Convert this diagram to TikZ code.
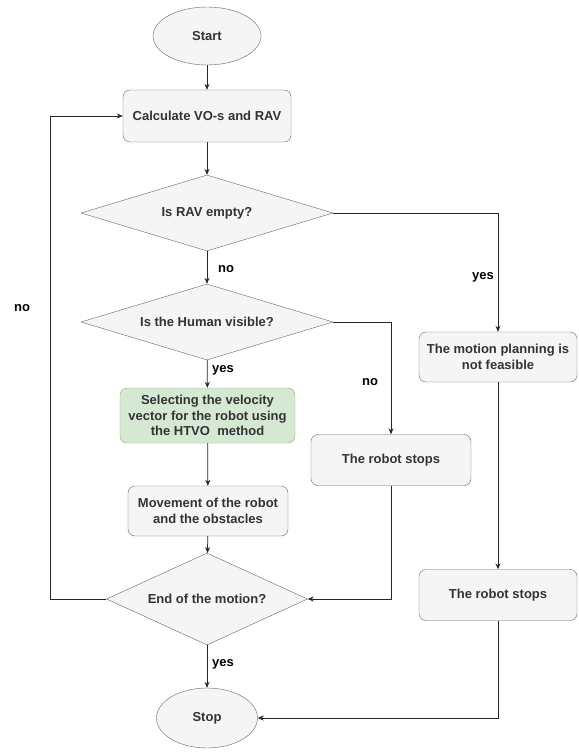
\documentclass[tikz,border=0pt]{standalone}
\usepackage{xcolor}
\usepackage{tikz}
\usetikzlibrary{shapes.geometric,arrows.meta}
\usepackage{fontspec}
\setmainfont{Liberation Sans}
\definecolor{boxgray}{HTML}{F5F5F5}
\definecolor{linegray}{HTML}{666666}
\definecolor{textgray}{HTML}{333333}
\definecolor{boxgreen}{HTML}{D5E8D4}
\definecolor{linegreen}{HTML}{82B366}

\begin{document}
\begin{tikzpicture}[
    x=1pt, y=-1pt,
    font=\fontsize{13}{15.5}\selectfont\bfseries,
    terminal/.style={ellipse, draw=linegray, fill=boxgray, text=textgray,
                     inner sep=0pt},
    process/.style={rectangle, rounded corners=7pt, draw=linegray, fill=boxgray,
                    text=textgray, align=center, inner sep=0pt},
    decision/.style={diamond, draw=linegray, fill=boxgray, text=textgray,
                     inner sep=0pt, aspect=3.3, minimum width=252pt, minimum height=76pt},
    flow/.style={-{Stealth[length=6pt,width=5pt]}, line width=0.75pt, black!85},
    edgelabel/.style={font=\fontsize{13}{15}\selectfont\bfseries, text=black}
]
    \useasboundingbox (0,0) rectangle (578,754);

    % Start / Stop
    \node[terminal, minimum width=108pt, minimum height=58pt] (start) at (207,36) {Start};
    \node[terminal, minimum width=101pt, minimum height=60pt] (stop) at (207,718) {Stop};

    % Left column
    \node[process, minimum width=168pt, minimum height=52pt] (calc) at (207,116) {Calculate VO-s and RAV};
    \node[decision] (rav) at (207,213) {Is RAV empty?};
    \node[decision] (human) at (207,322) {Is the Human visible?};
    \node[process, draw=linegreen, fill=boxgreen, minimum width=175pt, minimum height=55pt]
        (htvo) at (207.5,415.5) {Selecting the velocity\\vector for the robot using\\the HTVO\ \ method};
    \node[process, minimum width=160pt, minimum height=50pt] (move) at (208,511)
        {Movement of the robot\\and the obstacles};
    \node[decision, aspect=2.2, minimum width=201pt, minimum height=92pt] (endm) at (207,599) {End of the motion?};

    % Right columns
    \node[process, minimum width=160pt, minimum height=51pt] (stopmid) at (391,460) {The robot stops};
    \node[process, minimum width=158pt, minimum height=50pt] (notfeas) at (498,357)
        {The motion planning is\\not feasible};
    \node[process, minimum width=158pt, minimum height=51pt] (stopright) at (498,595) {The robot stops};

    % Arrows
    \draw[flow] (start) -- (calc);
    \draw[flow] (calc) -- (rav);
    \draw[flow] (rav) -- (human);
    \draw[flow] (human) -- (htvo);
    \draw[flow] (htvo) -- (move);
    \draw[flow] (move) -- (endm);
    \draw[flow] (endm) -- (stop);
    \draw[flow] (rav.east) -| (notfeas.north);
    \draw[flow] (notfeas) -- (stopright);
    \draw[flow] (stopright.south) |- (stop.east);
    \draw[flow] (human.east) -| (stopmid.north);
    \draw[flow] (stopmid.south) |- (endm.east);
    \draw[flow] (endm.west) -- (50,599) |- (calc.west);

    % Labels
    \node[edgelabel] (lno1) at (226,269) {no};
    \node[edgelabel] (lyes1) at (223,370) {yes};
    \node[edgelabel] (lyes2) at (223,664) {yes};
    \node[edgelabel] (lyes3) at (483,277) {yes};
    \node[edgelabel] (lno2) at (370,382) {no};
    \node[edgelabel] (lno3) at (22,308) {no};
\end{tikzpicture}
\end{document}
